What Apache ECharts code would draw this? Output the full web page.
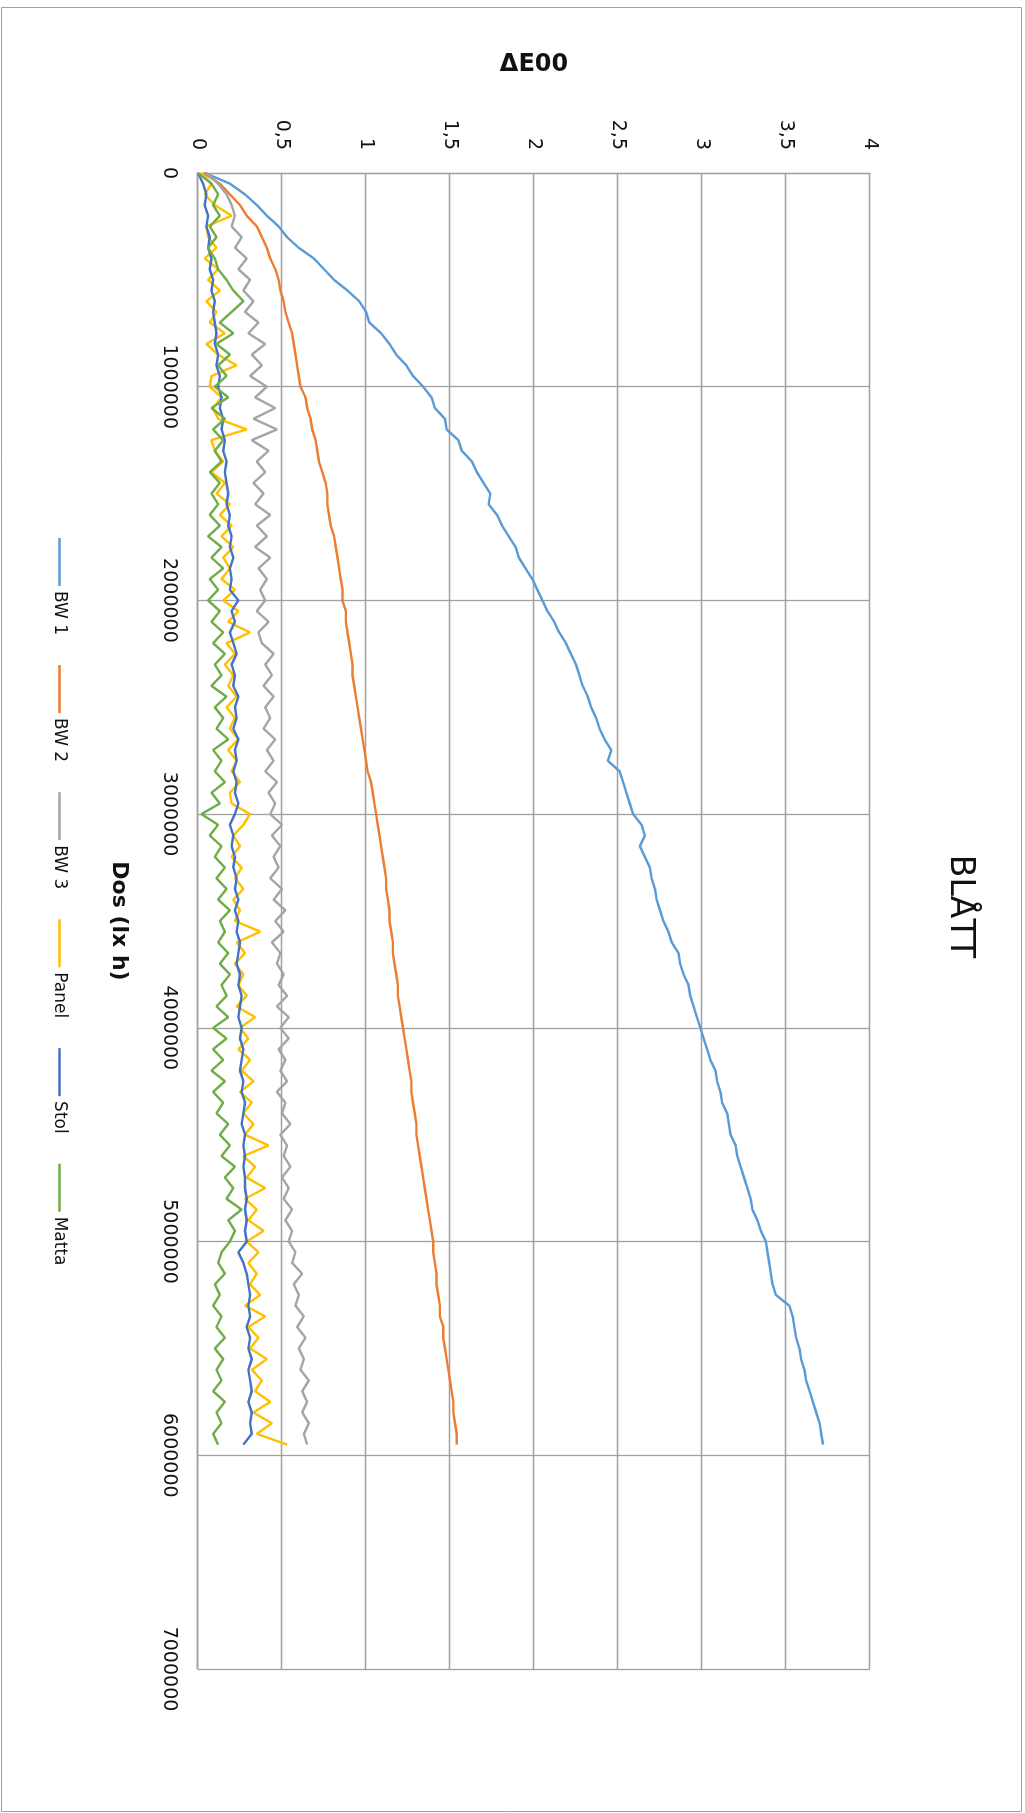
<!DOCTYPE html>
<html><head><meta charset="utf-8">
<script src="https://cdn.jsdelivr.net/npm/echarts@6/dist/echarts.min.js"></script>
<style>
html,body{margin:0;padding:0;width:1025px;height:1813px;overflow:hidden;background:#fff;}
#wrap{position:absolute;left:0;top:0;width:1813px;height:1025px;transform-origin:0 0;transform:translate(1025px,0) rotate(90deg);}
#chart{width:1813px;height:1025px;}
</style></head><body>
<div id="wrap"><div id="chart"></div></div>
<script>
// Dose in thousands of lx h
const doseK = [
0,50,100,150,200,250,300,350,400,450,
500,550,600,650,700,750,800,850,900,950,
1000,1050,1100,1150,1200,1250,1300,1350,1400,1450,
1500,1550,1600,1650,1700,1750,1800,1850,1900,1950,
2000,2050,2100,2150,2200,2250,2300,2350,2400,2450,
2500,2550,2600,2650,2700,2750,2800,2850,2900,2950,
3000,3050,3100,3150,3200,3250,3300,3350,3400,3450,
3500,3550,3600,3650,3700,3750,3800,3850,3900,3950,
4000,4050,4100,4150,4200,4250,4300,4350,4400,4450,
4500,4550,4600,4650,4700,4750,4800,4850,4900,4950,
5000,5050,5100,5150,5200,5250,5300,5350,5400,5450,
5500,5550,5600,5650,5700,5750,5800,5850,5900,5950];

const bw1 = [
0.04,0.19,0.28,0.35,0.41,0.48,0.53,0.60,0.69,0.75,
0.81,0.89,0.96,1.00,1.02,1.09,1.14,1.18,1.24,1.28,
1.34,1.39,1.41,1.47,1.48,1.55,1.57,1.63,1.66,1.70,
1.74,1.73,1.78,1.81,1.85,1.89,1.91,1.95,1.99,2.02,
2.05,2.08,2.12,2.15,2.19,2.22,2.25,2.27,2.29,2.32,
2.34,2.37,2.39,2.42,2.46,2.44,2.51,2.53,2.55,2.57,
2.59,2.64,2.66,2.63,2.66,2.69,2.70,2.72,2.73,2.75,
2.77,2.80,2.82,2.86,2.87,2.89,2.92,2.93,2.95,2.97,
2.99,3.01,3.03,3.05,3.08,3.09,3.11,3.12,3.15,3.16,
3.17,3.20,3.21,3.23,3.25,3.27,3.29,3.30,3.33,3.35,
3.38,3.39,3.40,3.41,3.42,3.44,3.52,3.54,3.55,3.56,
3.58,3.59,3.61,3.62,3.64,3.66,3.68,3.70,3.71,3.72];

const bw2 = [
0.03,0.13,0.19,0.25,0.29,0.35,0.38,0.41,0.43,0.46,
0.48,0.49,0.51,0.52,0.54,0.56,0.57,0.58,0.59,0.60,
0.61,0.64,0.65,0.67,0.68,0.70,0.71,0.72,0.74,0.76,
0.77,0.77,0.78,0.79,0.81,0.82,0.83,0.84,0.85,0.86,
0.86,0.88,0.88,0.89,0.90,0.91,0.92,0.92,0.93,0.94,
0.95,0.96,0.97,0.98,0.99,1.00,1.01,1.03,1.04,1.05,
1.06,1.07,1.08,1.09,1.10,1.11,1.12,1.12,1.13,1.14,
1.14,1.15,1.16,1.16,1.17,1.18,1.19,1.19,1.20,1.21,
1.22,1.23,1.24,1.25,1.26,1.27,1.27,1.28,1.29,1.30,
1.30,1.31,1.32,1.33,1.34,1.35,1.36,1.37,1.38,1.39,
1.40,1.40,1.41,1.42,1.42,1.43,1.44,1.44,1.46,1.46,
1.47,1.48,1.49,1.50,1.51,1.52,1.52,1.53,1.54,1.54];

const bw3 = [
0.05,0.12,0.17,0.20,0.22,0.20,0.26,0.22,0.29,0.24,
0.31,0.27,0.33,0.28,0.36,0.30,0.40,0.32,0.38,0.31,
0.41,0.34,0.46,0.33,0.47,0.32,0.42,0.35,0.40,0.33,
0.39,0.34,0.43,0.35,0.41,0.34,0.43,0.36,0.41,0.37,
0.40,0.35,0.42,0.36,0.38,0.45,0.40,0.44,0.39,0.45,
0.40,0.43,0.39,0.46,0.41,0.45,0.40,0.47,0.42,0.46,
0.43,0.50,0.44,0.49,0.45,0.48,0.43,0.50,0.45,0.52,
0.46,0.51,0.44,0.49,0.47,0.51,0.48,0.53,0.47,0.54,
0.49,0.54,0.48,0.52,0.49,0.53,0.47,0.52,0.50,0.55,
0.49,0.53,0.51,0.55,0.50,0.54,0.51,0.56,0.52,0.56,
0.54,0.58,0.56,0.62,0.57,0.60,0.58,0.63,0.59,0.64,
0.60,0.63,0.61,0.66,0.62,0.65,0.62,0.66,0.63,0.65];

const panel = [
0.02,0.08,0.04,0.10,0.20,0.05,0.06,0.11,0.04,0.12,
0.06,0.13,0.05,0.11,0.07,0.16,0.05,0.12,0.23,0.08,
0.07,0.14,0.09,0.12,0.29,0.08,0.10,0.15,0.08,0.16,
0.11,0.19,0.13,0.20,0.14,0.21,0.15,0.19,0.14,0.22,
0.15,0.24,0.18,0.31,0.17,0.22,0.16,0.21,0.18,0.23,
0.17,0.22,0.19,0.24,0.18,0.23,0.20,0.25,0.19,0.20,
0.31,0.27,0.21,0.25,0.20,0.26,0.22,0.27,0.21,0.25,
0.22,0.37,0.23,0.28,0.22,0.27,0.24,0.29,0.23,0.34,
0.25,0.30,0.24,0.31,0.26,0.33,0.25,0.32,0.27,0.33,
0.28,0.42,0.27,0.34,0.29,0.40,0.28,0.35,0.30,0.39,
0.29,0.36,0.30,0.35,0.31,0.37,0.28,0.40,0.30,0.36,
0.31,0.41,0.32,0.38,0.34,0.43,0.33,0.44,0.35,0.53];

const stol = [
0.00,0.03,0.05,0.04,0.06,0.05,0.07,0.06,0.08,0.07,
0.09,0.08,0.10,0.09,0.10,0.11,0.10,0.12,0.11,0.13,
0.12,0.14,0.13,0.15,0.14,0.16,0.15,0.17,0.16,0.17,
0.18,0.17,0.19,0.18,0.20,0.19,0.21,0.19,0.20,0.19,
0.24,0.20,0.22,0.19,0.21,0.23,0.20,0.22,0.21,0.24,
0.22,0.23,0.21,0.24,0.22,0.23,0.21,0.23,0.22,0.24,
0.22,0.19,0.21,0.20,0.22,0.21,0.23,0.22,0.24,0.22,
0.24,0.23,0.25,0.24,0.23,0.25,0.24,0.26,0.25,0.24,
0.26,0.25,0.27,0.26,0.25,0.27,0.26,0.28,0.27,0.26,
0.28,0.27,0.28,0.27,0.28,0.28,0.29,0.28,0.29,0.28,
0.29,0.24,0.27,0.29,0.30,0.31,0.30,0.31,0.29,0.31,
0.30,0.32,0.30,0.31,0.32,0.30,0.32,0.31,0.32,0.27];

const matta = [
0.00,0.08,0.12,0.09,0.13,0.07,0.11,0.06,0.10,0.12,
0.17,0.21,0.27,0.20,0.13,0.21,0.11,0.19,0.12,0.17,
0.10,0.18,0.08,0.16,0.09,0.15,0.10,0.14,0.07,0.13,
0.08,0.12,0.07,0.13,0.06,0.14,0.08,0.15,0.07,0.12,
0.06,0.13,0.08,0.15,0.09,0.16,0.10,0.14,0.08,0.17,
0.10,0.15,0.11,0.18,0.09,0.14,0.10,0.16,0.08,0.13,
0.02,0.12,0.07,0.14,0.10,0.16,0.11,0.17,0.12,0.19,
0.13,0.16,0.12,0.18,0.13,0.19,0.14,0.17,0.11,0.18,
0.09,0.17,0.09,0.15,0.08,0.16,0.09,0.15,0.11,0.18,
0.13,0.19,0.14,0.22,0.16,0.21,0.17,0.26,0.18,0.22,
0.19,0.14,0.12,0.16,0.10,0.13,0.09,0.14,0.11,0.16,
0.10,0.15,0.11,0.14,0.09,0.16,0.11,0.14,0.09,0.12];

const seriesNames = ['BW 1','BW 2','BW 3','Panel','Stol','Matta'];
const seriesValues = [bw1, bw2, bw3, panel, stol, matta];
const seriesColors = ['#5B9BD5','#ED7D31','#A5A5A5','#FFC000','#4472C4','#70AD47'];
const xTicks = {min:0, max:7000000, interval:1000000};
const yTicks = {min:0, max:4, interval:0.5};

const FONT = 'DejaVu Sans';
const TXT = '#111111';
const GRIDC = '#a0a0a0';

const chart = echarts.init(document.getElementById('chart'), null, {renderer:'canvas'});
const series = seriesNames.map((n, k) => ({
  name: n, type: 'line', showSymbol: false, symbol: 'none',
  data: doseK.map((d, i) => [d * 1000, seriesValues[k][i]]),
  lineStyle: {color: seriesColors[k], width: 2.4},
  itemStyle: {color: seriesColors[k]},
  emphasis: {disabled: true}
}));

chart.setOption({
  animation: false,
  backgroundColor: '#ffffff',
  title: {text: 'BLÅTT', left: 'center', top: 49, padding: 0,
    textStyle: {fontFamily: FONT, fontSize: 33, fontWeight: 'normal', color: TXT}},
  legend: {data: seriesNames, left: 538, top: 957, padding: 0, icon: 'rect',
    itemWidth: 48, itemHeight: 2.5, itemGap: 30,
    textStyle: {fontFamily: FONT, fontSize: 17, color: TXT}},
  grid: {left: 173, right: 144, top: 155, bottom: 198, containLabel: false, outerBoundsMode: 'none'},
  xAxis: {type: 'value', min: xTicks.min, max: xTicks.max, interval: xTicks.interval,
    name: 'Dos (lx h)', nameLocation: 'middle', nameGap: 68,
    nameTextStyle: {fontFamily: FONT, fontSize: 22, fontWeight: 'bold', color: TXT},
    axisLine: {show: true, lineStyle: {color: GRIDC, width: 1.3}},
    axisTick: {show: false},
    axisLabel: {margin: 20, fontFamily: FONT, fontSize: 19, color: TXT, showMinLabel: true, showMaxLabel: true,
      formatter: v => String(v)},
    splitLine: {show: true, lineStyle: {color: GRIDC, width: 1.3}}},
  yAxis: {type: 'value', min: yTicks.min, max: yTicks.max, interval: yTicks.interval,
    name: 'ΔE00', nameLocation: 'middle', nameGap: 96,
    nameTextStyle: {fontFamily: FONT, fontSize: 24, fontWeight: 'bold', color: TXT},
    axisLine: {show: true, lineStyle: {color: GRIDC, width: 1.3}},
    axisTick: {show: false},
    axisLabel: {margin: 23, fontFamily: FONT, fontSize: 19, color: TXT, showMinLabel: true, showMaxLabel: true,
      formatter: v => String(v).replace('.', ',')},
    splitLine: {show: true, lineStyle: {color: GRIDC, width: 1.3}}},
  graphic: [{type: 'rect', silent: true, z: -1,
    shape: {x: 7.5, y: 3.5, width: 1804, height: 1020},
    style: {fill: 'none', stroke: '#a0a0a0', lineWidth: 1}}],
  series: series
});
</script>
</body></html>
